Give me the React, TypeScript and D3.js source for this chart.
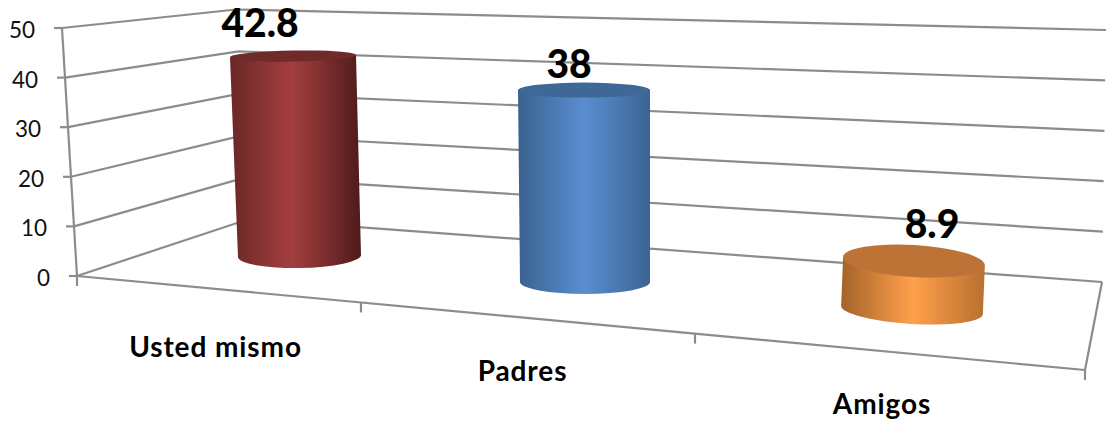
import React from "react";
import * as d3 from "d3";

const categories = ["Usted mismo", "Padres", "Amigos"];
const values = [42.8, 38, 8.9];
const valueLabels = ["42.8", "38", "8.9"];
const yTicks = [0, 10, 20, 30, 40, 50];
const sideStops = [
  ["#6a2726", "#a33f3e", "#4f1b1b"],
  ["#39618f", "#5a8ed1", "#3b6494"],
  ["#a4622a", "#ffa04a", "#b87030"],
];
const topColors = ["#6f2a2a", "#3f6896", "#bc7335"];

const W = 1106;
const H = 423;
const idx = [0, 1, 2];
const lin = (range: number[]) => d3.scaleLinear().domain(idx).range(range);

// projected chart frame
const leftX = d3.scaleLinear().domain([0, 50]).range([77, 62]);
const leftY = d3.scaleLinear().domain([0, 50]).range([276, 28]);
const backX = d3.scaleLinear().domain([0, 50]).range([249, 236]);
const backY = d3.scaleLinear().domain([0, 50]).range([219, 9.5]);
const rightY = d3.scaleLinear().domain([0, 50]).range([282, 30]);
const rightX = d3.scaleLinear().domain([0, 50]).range([1102, 1106]);
const floorX = d3.scaleLinear().domain([0, 1, 2, 3]).range([77, 361, 695, 1085]);
const floorY = d3.scaleLinear().domain([77, 1085]).range([276, 370]);

// cylinders, projected per category
const baseX = lin([299.5, 585, 912]);
const baseY = lin([256, 282, 310]);
const unitPx = lin([4.67, 5.05, 5.5]);
const leanPerUnit = lin([-0.152, -0.026, 0.22]);
const radiusTop = lin([63, 66, 71]);
const radiusBase = lin([61.5, 65, 71]);
const ryBase = lin([12, 12, 14]);
const tilt = lin([-1, 0, 3.5]);
const ryTop = d3.scaleLinear().domain([8.9, 38, 42.8]).range([16, 7.5, 5.5]);
const labelX = lin([260, 569, 932]);
const labelY = lin([37, 78, 238]);
const catX = lin([215.5, 522.5, 882]);
const catY = lin([357, 381, 414]);

const grid = "#8c8c8c";
const FONT = "Lato, 'Open Sans', sans-serif";

export default function App() {
  return (
    <svg width={W} height={H} style={{ position: "absolute", left: 0, top: 0, background: "#fff" }}>
      <defs>
        {sideStops.map((s, i) => (
          <linearGradient key={i} id={`side${i}`} x1="0" x2="1" y1="0" y2="0">
            <stop offset="0" stopColor={s[0]} />
            <stop offset={i === 0 ? "0.47" : "0.5"} stopColor={s[1]} />
            <stop offset="1" stopColor={s[2]} />
          </linearGradient>
        ))}
      </defs>

      <g fill="none" stroke={grid} strokeWidth={2.2}>
        {yTicks.map((t) => (
          <polyline
            key={t}
            points={`${leftX(t)},${leftY(t)} ${backX(t)},${backY(t)} ${rightX(t)},${rightY(t)}`}
          />
        ))}
        {yTicks.map((t) => (
          <line key={t} x1={leftX(t) - 8} x2={leftX(t)} y1={leftY(t)} y2={leftY(t)} />
        ))}
        <line x1={leftX(50)} y1={leftY(50)} x2={leftX(0)} y2={leftY(0)} />
        <line x1={floorX(0)} y1={floorY(floorX(0))} x2={floorX(3)} y2={floorY(floorX(3))} />
        <line x1={rightX(0)} y1={rightY(0)} x2={floorX(3)} y2={floorY(floorX(3))} />
        {[0, 1, 2, 3].map((k) => (
          <line
            key={k}
            x1={floorX(k)}
            x2={floorX(k)}
            y1={floorY(floorX(k))}
            y2={floorY(floorX(k)) + 10}
          />
        ))}
      </g>

      {values.map((v, i) => {
        const bx = baseX(i);
        const by = baseY(i);
        const rb = radiusBase(i);
        const rt = radiusTop(i);
        const tx = bx + leanPerUnit(i) * v;
        const ty = by - unitPx(i) * v;
        const a = (tilt(i) * Math.PI) / 180;
        const ryb = ryBase(i);
        const ryt = ryTop(v);
        const side =
          `M${tx - rt * Math.cos(a)},${ty - rt * Math.sin(a)}` +
          `L${bx - rb * Math.cos(a)},${by - rb * Math.sin(a)}` +
          `A${rb},${ryb} ${tilt(i)} 0 0 ${bx + rb * Math.cos(a)},${by + rb * Math.sin(a)}` +
          `L${tx + rt * Math.cos(a)},${ty + rt * Math.sin(a)}Z`;
        return (
          <g key={i}>
            <path d={side} fill={`url(#side${i})`} />
            <ellipse
              cx={tx}
              cy={ty}
              rx={rt}
              ry={ryt}
              fill={topColors[i]}
              transform={`rotate(${tilt(i)} ${tx} ${ty})`}
            />
          </g>
        );
      })}

      <g fontFamily={FONT} fill="#111" fontSize={22.5} textAnchor="end">
        {yTicks.map((t) => (
          <text key={t} x={leftX(t) - 27} y={leftY(t) + 10}>
            {t}
          </text>
        ))}
      </g>
      <g fontFamily={FONT} fontWeight={900} fill="#000" textAnchor="middle">
        {valueLabels.map((l, i) => (
          <text key={l} x={labelX(i)} y={labelY(i)} fontSize={39}>
            {l}
          </text>
        ))}
      </g>
      <g fontFamily={FONT} fontWeight={700} fill="#000" textAnchor="middle">
        {categories.map((c, i) => (
          <text key={c} x={catX(i)} y={catY(i)} fontSize={28} letterSpacing={0.9}>
            {c}
          </text>
        ))}
      </g>
    </svg>
  );
}
